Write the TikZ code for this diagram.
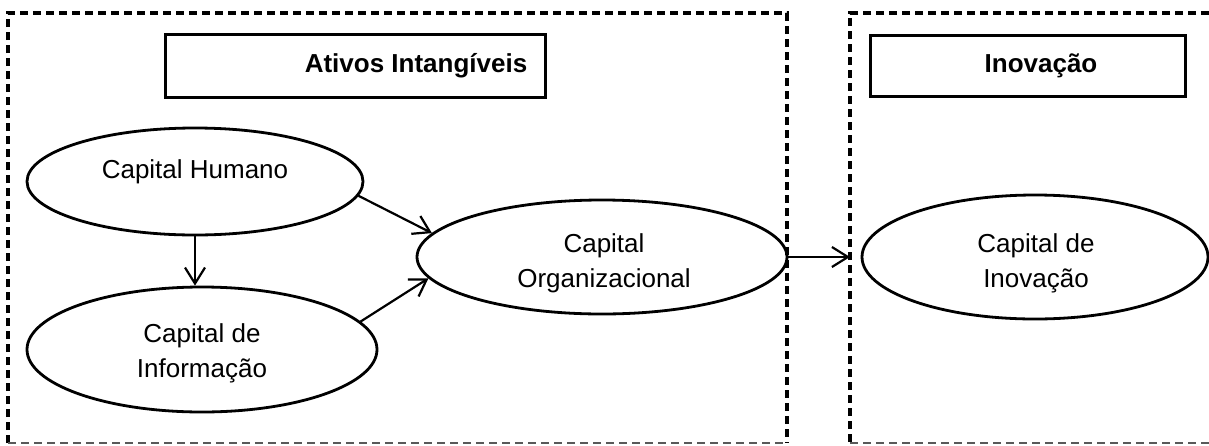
\documentclass[tikz,border=0pt]{standalone}
\usepackage{fontspec}
\setmainfont{Liberation Sans}
\usetikzlibrary{arrows.meta,shapes.geometric}
\begin{document}
\begin{tikzpicture}[x=0.5pt,y=-0.5pt,
  every node/.style={font=\fontsize{13}{15}\selectfont},
  ell/.style={draw, ellipse, line width=1.4pt, inner sep=0pt},
  lbl/.style={anchor=base, inner sep=0pt},
  titlebox/.style={draw, rectangle, line width=1.5pt, inner sep=0pt},
  frameline/.style={line width=1.7pt, dash pattern=on 4.2pt off 2.3pt},
  framebottom/.style={line width=1pt, draw=black!65, dash pattern=on 4.2pt off 2.3pt},
  arr/.style={-{Straight Barb[length=8pt,width=10pt,line width=1.1pt]}, line width=1.1pt}]

\useasboundingbox (0,0) rectangle (1209,445);

% dashed frames
\coordinate (lframeTL) at (8,13);
\coordinate (rframe) at (850,13);
\draw[frameline] (8,443) -- (lframeTL) -- (787,13) -- (787,443);
\draw[framebottom] (8,443) -- (787,443);
\draw[frameline] (1209,13) -- (rframe) -- (850,443);
\draw[framebottom] (850,443) -- (1209,443);

% title boxes
\node[titlebox, minimum width=190pt, minimum height=31.5pt] (ativbox) at (355,65.5) {};
\node[lbl, font=\fontsize{13}{15}\selectfont\bfseries] (ativtxt) at (416,72) {Ativos Intangíveis};
\node[titlebox, minimum width=157.5pt, minimum height=30.5pt] (inovbox) at (1027.5,65.5) {};
\node[lbl, font=\fontsize{13}{15}\selectfont\bfseries] (inovtxt) at (1041,72) {Inovação};

% ellipses
\node[ell, minimum width=168pt, minimum height=53.5pt] (hum) at (195,181.5) {};
\node[ell, minimum width=175pt, minimum height=62.5pt] (info) at (202,349.5) {};
\node[ell, minimum width=185pt, minimum height=57pt] (org) at (602,257) {};
\node[ell, minimum width=173pt, minimum height=62pt] (inov) at (1035,257) {};

% ellipse texts
\node[lbl] (humtxt) at (195,178) {Capital Humano};
\node[lbl] (infotxtA) at (202,342) {Capital de};
\node[lbl] (infotxtB) at (202,377) {Informação};
\node[lbl] (orgtxtA) at (604,252) {Capital};
\node[lbl] (orgtxtB) at (604,287) {Organizacional};
\node[lbl] (inovtxtA) at (1036,252) {Capital de};
\node[lbl] (inovtxtB) at (1036,287) {Inovação};

% connectors
\draw[arr] (hum.south) -- (hum.south |- info.north);
\draw[arr] (hum.-5) -- (org.172);
\draw[arr] (info.10) -- (org.187);
\draw[arr] (org.east) -- (org.east -| rframe);
\end{tikzpicture}
\end{document}
